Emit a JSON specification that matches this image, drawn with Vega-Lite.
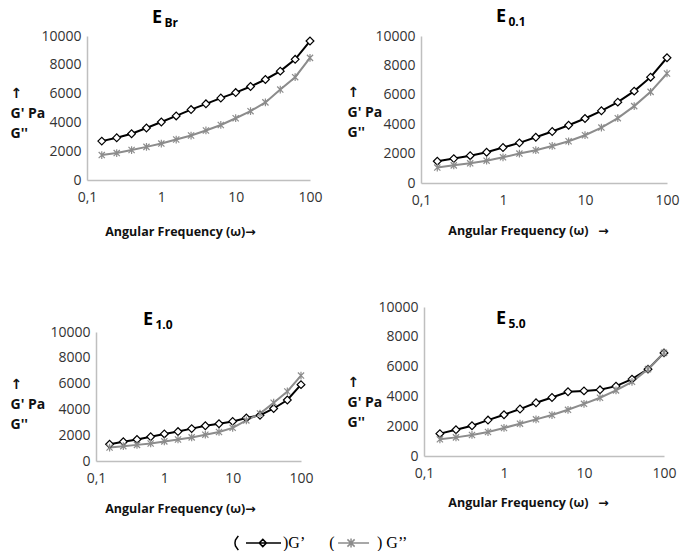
{
  "$schema": "https://vega.github.io/schema/vega-lite/v6.json",
  "padding": {"left": 10, "top": 8, "right": 5, "bottom": 0},
  "background": "white",
  "datasets": {
    "moduli": [
      {"panel": "Br", "omega": 0.158, "series": "G'", "G": 2700},
      {"panel": "Br", "omega": 0.251, "series": "G'", "G": 2930},
      {"panel": "Br", "omega": 0.398, "series": "G'", "G": 3210},
      {"panel": "Br", "omega": 0.631, "series": "G'", "G": 3610},
      {"panel": "Br", "omega": 1, "series": "G'", "G": 4030},
      {"panel": "Br", "omega": 1.585, "series": "G'", "G": 4450},
      {"panel": "Br", "omega": 2.512, "series": "G'", "G": 4890},
      {"panel": "Br", "omega": 3.981, "series": "G'", "G": 5290},
      {"panel": "Br", "omega": 6.31, "series": "G'", "G": 5690},
      {"panel": "Br", "omega": 10, "series": "G'", "G": 6070},
      {"panel": "Br", "omega": 15.85, "series": "G'", "G": 6490},
      {"panel": "Br", "omega": 25.12, "series": "G'", "G": 6980},
      {"panel": "Br", "omega": 39.81, "series": "G'", "G": 7560},
      {"panel": "Br", "omega": 63.1, "series": "G'", "G": 8380},
      {"panel": "Br", "omega": 100, "series": "G'", "G": 9650},
      {"panel": "Br", "omega": 0.158, "series": "G''", "G": 1730},
      {"panel": "Br", "omega": 0.251, "series": "G''", "G": 1870},
      {"panel": "Br", "omega": 0.398, "series": "G''", "G": 2080},
      {"panel": "Br", "omega": 0.631, "series": "G''", "G": 2300},
      {"panel": "Br", "omega": 1, "series": "G''", "G": 2530},
      {"panel": "Br", "omega": 1.585, "series": "G''", "G": 2810},
      {"panel": "Br", "omega": 2.512, "series": "G''", "G": 3090},
      {"panel": "Br", "omega": 3.981, "series": "G''", "G": 3440},
      {"panel": "Br", "omega": 6.31, "series": "G''", "G": 3820},
      {"panel": "Br", "omega": 10, "series": "G''", "G": 4290},
      {"panel": "Br", "omega": 15.85, "series": "G''", "G": 4780},
      {"panel": "Br", "omega": 25.12, "series": "G''", "G": 5390},
      {"panel": "Br", "omega": 39.81, "series": "G''", "G": 6280},
      {"panel": "Br", "omega": 63.1, "series": "G''", "G": 7140},
      {"panel": "Br", "omega": 100, "series": "G''", "G": 8480},

      {"panel": "0.1", "omega": 0.158, "series": "G'", "G": 1480},
      {"panel": "0.1", "omega": 0.251, "series": "G'", "G": 1660},
      {"panel": "0.1", "omega": 0.398, "series": "G'", "G": 1860},
      {"panel": "0.1", "omega": 0.631, "series": "G'", "G": 2090},
      {"panel": "0.1", "omega": 1, "series": "G'", "G": 2410},
      {"panel": "0.1", "omega": 1.585, "series": "G'", "G": 2730},
      {"panel": "0.1", "omega": 2.512, "series": "G'", "G": 3110},
      {"panel": "0.1", "omega": 3.981, "series": "G'", "G": 3500},
      {"panel": "0.1", "omega": 6.31, "series": "G'", "G": 3930},
      {"panel": "0.1", "omega": 10, "series": "G'", "G": 4390},
      {"panel": "0.1", "omega": 15.85, "series": "G'", "G": 4910},
      {"panel": "0.1", "omega": 25.12, "series": "G'", "G": 5500},
      {"panel": "0.1", "omega": 39.81, "series": "G'", "G": 6250},
      {"panel": "0.1", "omega": 63.1, "series": "G'", "G": 7200},
      {"panel": "0.1", "omega": 100, "series": "G'", "G": 8520},
      {"panel": "0.1", "omega": 0.158, "series": "G''", "G": 1050},
      {"panel": "0.1", "omega": 0.251, "series": "G''", "G": 1200},
      {"panel": "0.1", "omega": 0.398, "series": "G''", "G": 1340},
      {"panel": "0.1", "omega": 0.631, "series": "G''", "G": 1520},
      {"panel": "0.1", "omega": 1, "series": "G''", "G": 1750},
      {"panel": "0.1", "omega": 1.585, "series": "G''", "G": 2000},
      {"panel": "0.1", "omega": 2.512, "series": "G''", "G": 2230},
      {"panel": "0.1", "omega": 3.981, "series": "G''", "G": 2520},
      {"panel": "0.1", "omega": 6.31, "series": "G''", "G": 2840},
      {"panel": "0.1", "omega": 10, "series": "G''", "G": 3250},
      {"panel": "0.1", "omega": 15.85, "series": "G''", "G": 3770},
      {"panel": "0.1", "omega": 25.12, "series": "G''", "G": 4410},
      {"panel": "0.1", "omega": 39.81, "series": "G''", "G": 5230},
      {"panel": "0.1", "omega": 63.1, "series": "G''", "G": 6200},
      {"panel": "0.1", "omega": 100, "series": "G''", "G": 7450},

      {"panel": "1.0", "omega": 0.158, "series": "G'", "G": 1300},
      {"panel": "1.0", "omega": 0.251, "series": "G'", "G": 1490},
      {"panel": "1.0", "omega": 0.398, "series": "G'", "G": 1670},
      {"panel": "1.0", "omega": 0.631, "series": "G'", "G": 1880},
      {"panel": "1.0", "omega": 1, "series": "G'", "G": 2100},
      {"panel": "1.0", "omega": 1.585, "series": "G'", "G": 2280},
      {"panel": "1.0", "omega": 2.512, "series": "G'", "G": 2510},
      {"panel": "1.0", "omega": 3.981, "series": "G'", "G": 2730},
      {"panel": "1.0", "omega": 6.31, "series": "G'", "G": 2890},
      {"panel": "1.0", "omega": 10, "series": "G'", "G": 3070},
      {"panel": "1.0", "omega": 15.85, "series": "G'", "G": 3330},
      {"panel": "1.0", "omega": 25.12, "series": "G'", "G": 3540},
      {"panel": "1.0", "omega": 39.81, "series": "G'", "G": 4070},
      {"panel": "1.0", "omega": 63.1, "series": "G'", "G": 4730},
      {"panel": "1.0", "omega": 100, "series": "G'", "G": 5920},
      {"panel": "1.0", "omega": 0.158, "series": "G''", "G": 1040},
      {"panel": "1.0", "omega": 0.251, "series": "G''", "G": 1150},
      {"panel": "1.0", "omega": 0.398, "series": "G''", "G": 1250},
      {"panel": "1.0", "omega": 0.631, "series": "G''", "G": 1360},
      {"panel": "1.0", "omega": 1, "series": "G''", "G": 1520},
      {"panel": "1.0", "omega": 1.585, "series": "G''", "G": 1670},
      {"panel": "1.0", "omega": 2.512, "series": "G''", "G": 1830},
      {"panel": "1.0", "omega": 3.981, "series": "G''", "G": 2040},
      {"panel": "1.0", "omega": 6.31, "series": "G''", "G": 2250},
      {"panel": "1.0", "omega": 10, "series": "G''", "G": 2570},
      {"panel": "1.0", "omega": 15.85, "series": "G''", "G": 3150},
      {"panel": "1.0", "omega": 25.12, "series": "G''", "G": 3680},
      {"panel": "1.0", "omega": 39.81, "series": "G''", "G": 4520},
      {"panel": "1.0", "omega": 63.1, "series": "G''", "G": 5390},
      {"panel": "1.0", "omega": 100, "series": "G''", "G": 6620},

      {"panel": "5.0", "omega": 0.158, "series": "G'", "G": 1500},
      {"panel": "5.0", "omega": 0.251, "series": "G'", "G": 1760},
      {"panel": "5.0", "omega": 0.398, "series": "G'", "G": 2030},
      {"panel": "5.0", "omega": 0.631, "series": "G'", "G": 2410},
      {"panel": "5.0", "omega": 1, "series": "G'", "G": 2770},
      {"panel": "5.0", "omega": 1.585, "series": "G'", "G": 3150},
      {"panel": "5.0", "omega": 2.512, "series": "G'", "G": 3570},
      {"panel": "5.0", "omega": 3.981, "series": "G'", "G": 3930},
      {"panel": "5.0", "omega": 6.31, "series": "G'", "G": 4310},
      {"panel": "5.0", "omega": 10, "series": "G'", "G": 4370},
      {"panel": "5.0", "omega": 15.85, "series": "G'", "G": 4440},
      {"panel": "5.0", "omega": 25.12, "series": "G'", "G": 4690},
      {"panel": "5.0", "omega": 39.81, "series": "G'", "G": 5160},
      {"panel": "5.0", "omega": 63.1, "series": "G'", "G": 5830},
      {"panel": "5.0", "omega": 100, "series": "G'", "G": 6920},
      {"panel": "5.0", "omega": 0.158, "series": "G''", "G": 1120},
      {"panel": "5.0", "omega": 0.251, "series": "G''", "G": 1250},
      {"panel": "5.0", "omega": 0.398, "series": "G''", "G": 1410},
      {"panel": "5.0", "omega": 0.631, "series": "G''", "G": 1610},
      {"panel": "5.0", "omega": 1, "series": "G''", "G": 1880},
      {"panel": "5.0", "omega": 1.585, "series": "G''", "G": 2170},
      {"panel": "5.0", "omega": 2.512, "series": "G''", "G": 2460},
      {"panel": "5.0", "omega": 3.981, "series": "G''", "G": 2750},
      {"panel": "5.0", "omega": 6.31, "series": "G''", "G": 3100},
      {"panel": "5.0", "omega": 10, "series": "G''", "G": 3500},
      {"panel": "5.0", "omega": 15.85, "series": "G''", "G": 3910},
      {"panel": "5.0", "omega": 25.12, "series": "G''", "G": 4400},
      {"panel": "5.0", "omega": 39.81, "series": "G''", "G": 4980},
      {"panel": "5.0", "omega": 63.1, "series": "G''", "G": 5830},
      {"panel": "5.0", "omega": 100, "series": "G''", "G": 6920}
    ]
  },
  "data": {"name": "moduli"},
  "spacing": 24,
  "hconcat": [
    {
      "bounds": "flush",
      "center": true,
      "spacing": 152,
      "vconcat": [
        {
          "width": 223,
          "height": 144,
          "title": {"text": "E", "subtitle": "\u200b\u00a0\u00a0\u00a0\u00a0Br", "dx": 65, "offset": 0},
          "transform": [{"filter": "datum.panel === 'Br'"}],
          "encoding": {
            "x": {"field": "omega", "type": "quantitative", "scale": {"type": "log", "domain": [0.1, 100], "nice": false},
                  "axis": {"values": [0.1, 1, 10, 100], "title": "Angular Frequency (ω)→", "titleX": 93, "titleY": 55}},
            "y": {"field": "G", "type": "quantitative", "scale": {"domain": [0, 10000], "nice": false},
                  "axis": {"values": [0, 2000, 4000, 6000, 8000, 10000], "title": ["↑", "G' Pa", "G''"], "titleX": -77, "titleY": 61}},
            "stroke": {
              "field": "series", "type": "nominal",
              "scale": {"domain": ["G'", "G''"], "range": ["#000000", "#8c8c8c"]},
              "legend": {
                "orient": "none", "legendX": 146, "legendY": 482, "values": ["G'"],
                "title": null, "padding": 0,
                "labelFont": "Liberation Serif", "labelFontSize": 16, "labelColor": "#000000", "labelOffset": 0, "labelLimit": 0,
                "labelExpr": "')G’\u00a0\u00a0\u00a0\u00a0\u00a0\u00a0('",
                "symbolSize": 2304, "symbolStrokeWidth": 1.5, "symbolFillColor": "white",
                "symbolType": "M-0.82,-0.3L-0.94,-0.12L-0.96,0L-0.94,0.12L-0.82,0.3M-0.5,0L0.96,0M0.2,-0.15L0.35,0L0.2,0.15L0.05,0Z"
              }
            }
          },
          "layer": [
            {"mark": {"type": "line", "strokeWidth": 2}},
            {"transform": [{"filter": "datum.series === \"G'\""}],
             "mark": {"type": "point", "shape": "diamond", "filled": true, "fill": "white", "opacity": 1, "size": 60, "strokeWidth": 1.2}},
            {"transform": [{"filter": "datum.series === \"G''\""}],
             "mark": {"type": "point", "shape": "M-0.8,-0.8L0.8,0.8M-0.8,0.8L0.8,-0.8M0,-1L0,1", "filled": true, "opacity": 1, "size": 60, "strokeWidth": 1.2},
             "encoding": {
               "fill": {
                 "field": "series", "type": "nominal",
                 "scale": {"domain": ["G''"], "range": ["white"]},
                 "legend": {
                   "orient": "none", "legendX": 240, "legendY": 482,
                   "title": null, "padding": 0,
                   "labelFont": "Liberation Serif", "labelFontSize": 16, "labelColor": "#000000", "labelOffset": 0,
                   "labelExpr": "') G’’'",
                   "symbolSize": 2304, "symbolStrokeWidth": 1.5, "symbolStrokeColor": "#8c8c8c",
                   "symbolType": "M-0.58,0L0.71,0M-0.19,-0.15L0.11,0.15M-0.19,0.15L0.11,-0.15M-0.04,-0.19L-0.04,0.19"
                 }
               }
             }}
          ]
        },
        {
          "width": 205,
          "height": 129,
          "title": {"text": "E", "subtitle": "\u200b\u00a0\u00a0\u00a0\u00a01.0", "dx": 47, "offset": -6},
          "transform": [{"filter": "datum.panel === '1.0'"}],
          "encoding": {
            "x": {"field": "omega", "type": "quantitative", "scale": {"type": "log", "domain": [0.1, 100], "nice": false},
                  "axis": {"values": [0.1, 1, 10, 100], "title": "Angular Frequency (ω)→", "titleX": 84, "titleY": 51}},
            "y": {"field": "G", "type": "quantitative", "scale": {"domain": [0, 10000], "nice": false},
                  "axis": {"values": [0, 2000, 4000, 6000, 8000, 10000], "title": ["↑", "G' Pa", "G''"], "titleX": -86, "titleY": 56}},
            "stroke": {"field": "series", "type": "nominal", "scale": {"domain": ["G'", "G''"], "range": ["#000000", "#8c8c8c"]}}
          },
          "layer": [
            {"mark": {"type": "line", "strokeWidth": 2}},
            {"transform": [{"filter": "datum.series === \"G'\""}],
             "mark": {"type": "point", "shape": "diamond", "filled": true, "fill": "white", "opacity": 1, "size": 60, "strokeWidth": 1.2}},
            {"transform": [{"filter": "datum.series === \"G''\""}],
             "mark": {"type": "point", "shape": "M-0.8,-0.8L0.8,0.8M-0.8,0.8L0.8,-0.8M0,-1L0,1", "filled": true, "fill": "white", "opacity": 1, "size": 60, "strokeWidth": 1.2}}
          ]
        }
      ]
    },
    {
      "bounds": "flush",
      "center": true,
      "spacing": 124,
      "vconcat": [
        {
          "width": 246,
          "height": 147,
          "title": {"text": "E", "subtitle": "\u200b\u00a0\u00a0\u00a0\u00a00.1", "dx": 75, "offset": 1},
          "transform": [{"filter": "datum.panel === '0.1'"}],
          "encoding": {
            "x": {"field": "omega", "type": "quantitative", "scale": {"type": "log", "domain": [0.1, 100], "nice": false},
                  "axis": {"values": [0.1, 1, 10, 100], "title": "Angular Frequency (ω)\u00a0\u00a0\u00a0→", "titleX": 107, "titleY": 51}},
            "y": {"field": "G", "type": "quantitative", "scale": {"domain": [0, 10000], "nice": false},
                  "axis": {"values": [0, 2000, 4000, 6000, 8000, 10000], "title": ["↑", "G' Pa", "G''"], "titleX": -74, "titleY": 60}},
            "stroke": {"field": "series", "type": "nominal", "scale": {"domain": ["G'", "G''"], "range": ["#000000", "#8c8c8c"]}}
          },
          "layer": [
            {"mark": {"type": "line", "strokeWidth": 2}},
            {"transform": [{"filter": "datum.series === \"G'\""}],
             "mark": {"type": "point", "shape": "diamond", "filled": true, "fill": "white", "opacity": 1, "size": 60, "strokeWidth": 1.2}},
            {"transform": [{"filter": "datum.series === \"G''\""}],
             "mark": {"type": "point", "shape": "M-0.8,-0.8L0.8,0.8M-0.8,0.8L0.8,-0.8M0,-1L0,1", "filled": true, "fill": "white", "opacity": 1, "size": 60, "strokeWidth": 1.2}}
          ]
        },
        {
          "width": 240,
          "height": 149,
          "title": {"text": "E", "subtitle": "\u200b\u00a0\u00a0\u00a0\u00a05.0", "dx": 72, "offset": -30},
          "transform": [{"filter": "datum.panel === '5.0'"}],
          "encoding": {
            "x": {"field": "omega", "type": "quantitative", "scale": {"type": "log", "domain": [0.1, 100], "nice": false},
                  "axis": {"values": [0.1, 1, 10, 100], "title": "Angular Frequency (ω)\u00a0\u00a0\u00a0→", "titleX": 104, "titleY": 50}},
            "y": {"field": "G", "type": "quantitative", "scale": {"domain": [0, 10000], "nice": false},
                  "axis": {"values": [0, 2000, 4000, 6000, 8000, 10000], "title": ["↑", "G' Pa", "G''"], "titleX": -77, "titleY": 79}},
            "stroke": {"field": "series", "type": "nominal", "scale": {"domain": ["G'", "G''"], "range": ["#000000", "#8c8c8c"]}}
          },
          "layer": [
            {"mark": {"type": "line", "strokeWidth": 2}},
            {"transform": [{"filter": "datum.series === \"G'\""}],
             "mark": {"type": "point", "shape": "diamond", "filled": true, "fill": "white", "opacity": 1, "size": 60, "strokeWidth": 1.2}},
            {"transform": [{"filter": "datum.series === \"G''\""}],
             "mark": {"type": "point", "shape": "M-0.8,-0.8L0.8,0.8M-0.8,0.8L0.8,-0.8M0,-1L0,1", "filled": true, "fill": "white", "opacity": 1, "size": 60, "strokeWidth": 1.2}}
          ]
        }
      ]
    }
  ],
  "config": {
    "view": {"stroke": null},
    "font": "Open Sans",
    "axis": {
      "grid": false, "ticks": false, "tickSize": 0,
      "domainColor": "#bfbfbf", "domainWidth": 1.5,
      "labelFont": "Open Sans", "labelFontSize": 14, "labelColor": "#333333",
      "titleFont": "Open Sans, DejaVu Sans", "titleFontWeight": "bold", "titleColor": "#111111"
    },
    "axisX": {"format": "~g", "labelExpr": "replace(datum.label, '.', ',')", "labelPadding": 10, "titleFontSize": 12.5, "titleAlign": "center", "titleBaseline": "alphabetic", "labelFlush": false},
    "axisY": {"format": "d", "labelPadding": 6, "titleFontSize": 14, "titleAngle": 0, "titleAlign": "left", "titleBaseline": "alphabetic", "titleLineHeight": 20},
    "title": {
      "anchor": "start", "frame": "group", "font": "Open Sans", "fontSize": 18, "fontWeight": "bold", "color": "#000000",
      "subtitleFont": "Open Sans", "subtitleFontSize": 12, "subtitleFontWeight": "bold", "subtitleColor": "#000000",
      "subtitlePadding": -9
    }
  }
}
